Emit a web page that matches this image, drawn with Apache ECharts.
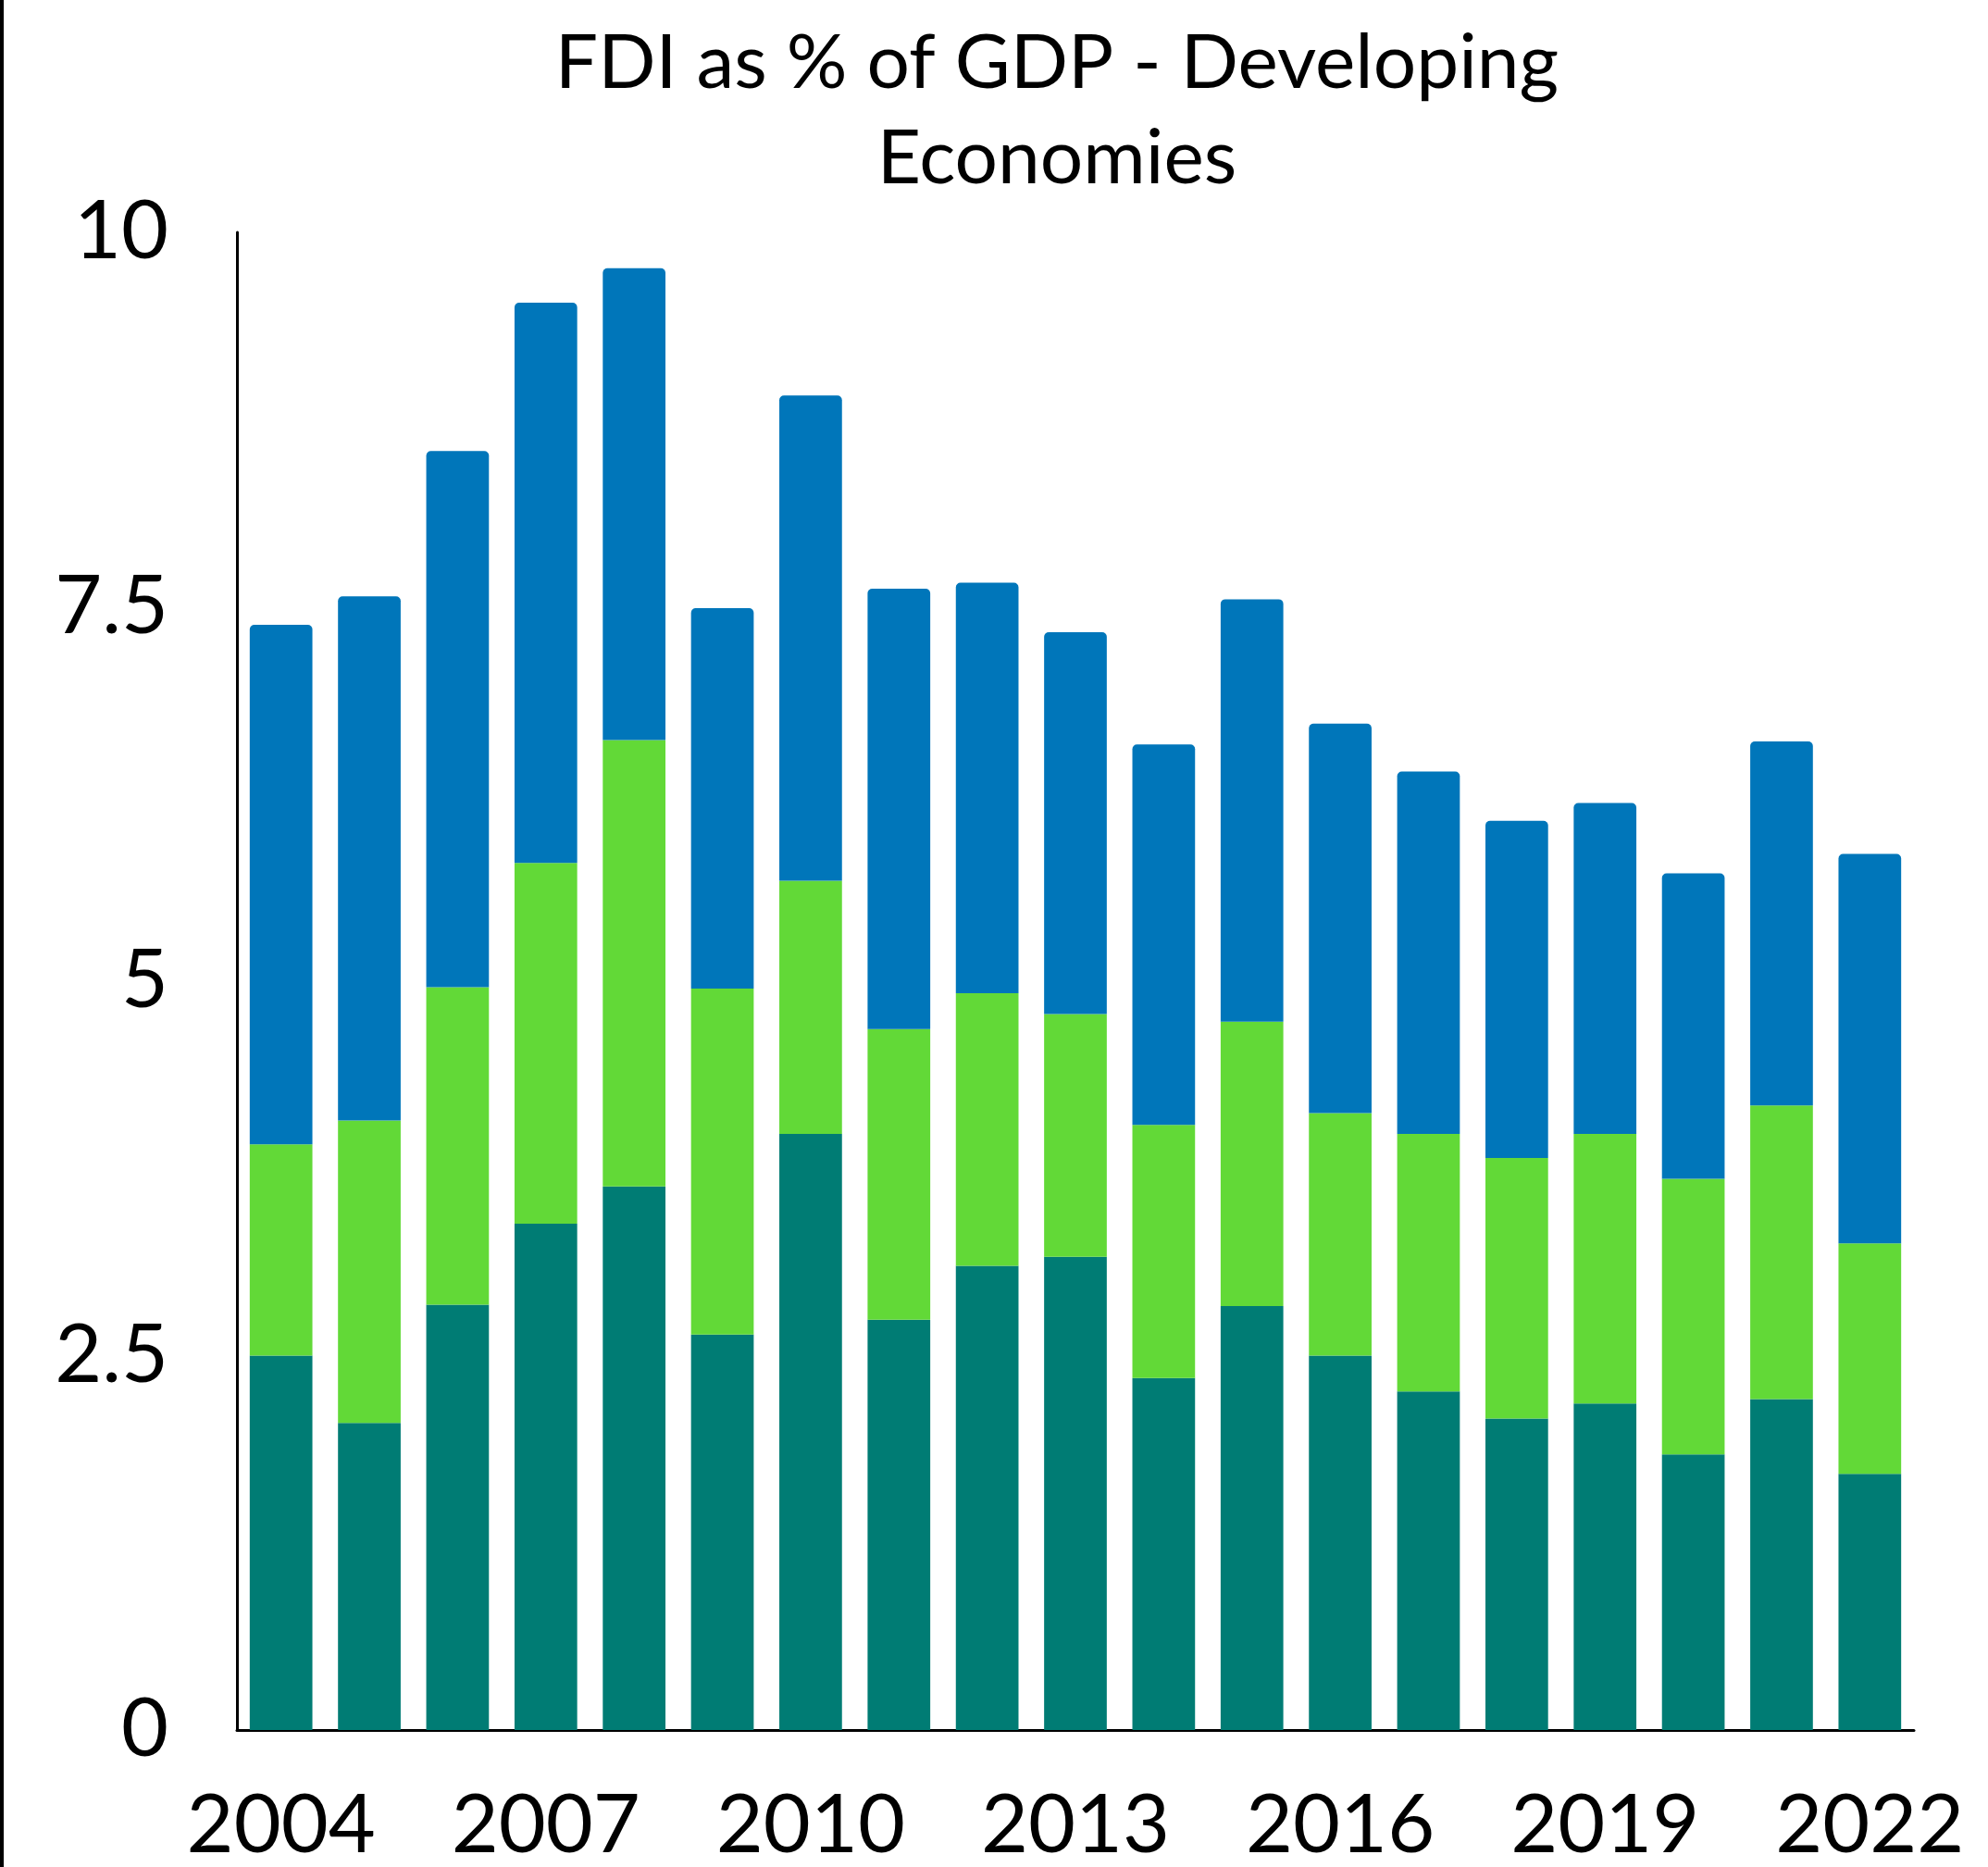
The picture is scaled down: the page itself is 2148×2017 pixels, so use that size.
<!DOCTYPE html>
<html>
<head>
<meta charset="utf-8">
<script src="https://cdn.jsdelivr.net/npm/echarts@6/dist/echarts.min.js"></script>
<style>
html, body { margin: 0; padding: 0; background: #fff; }
#main { width: 2148px; height: 2017px; }
</style>
</head>
<body>
<div id="main"></div>
<script>
var years = ['2004','2005','2006','2007','2008','2009','2010','2011','2012','2013',
             '2014','2015','2016','2017','2018','2019','2020','2021','2022'];
// bottom segment (teal)
var bottomVals = [2.50,2.05,2.84,3.38,3.63,2.64,3.98,2.74,3.10,3.16,2.35,2.83,2.50,2.26,2.08,2.18,1.84,2.21,1.71];
// middle segment (green)
var middleVals = [1.41,2.02,2.12,2.41,2.98,2.31,1.69,1.94,1.82,1.62,1.69,1.90,1.62,1.72,1.74,1.80,1.84,1.96,1.54];
// top segment (blue)
var topVals = [3.47,3.50,3.58,3.74,3.15,2.54,3.24,2.94,2.74,2.55,2.54,2.82,2.60,2.42,2.25,2.21,2.04,2.43,2.60];

var font = 'Lato';
var chart = echarts.init(document.getElementById('main'));

var option = {
    animation: false,
    backgroundColor: '#ffffff',
    title: {
        text: 'FDI as % of GDP - Developing\nEconomies',
        left: 1137,
        textAlign: 'center',
        top: 12,
        textStyle: {
            fontFamily: font,
            fontSize: 82,
            fontWeight: 'normal',
            color: '#000',
            lineHeight: 103
        }
    },
    graphic: [{
        type: 'rect',
        shape: { x: 0, y: 0, width: 4, height: 2017 },
        style: { fill: '#000' }
    }],
    grid: { left: 256, right: 80, top: 251, bottom: 146 },
    xAxis: {
        type: 'category',
        data: years,
        axisLine: { lineStyle: { color: '#000', width: 3 } },
        axisTick: { show: false },
        axisLabel: {
            interval: 2,
            fontFamily: font,
            fontSize: 88,
            color: '#000',
            margin: 60
        }
    },
    yAxis: {
        type: 'value',
        min: 0,
        max: 10,
        interval: 2.5,
        splitLine: { show: false },
        axisLine: { show: true, lineStyle: { color: '#000', width: 3 } },
        axisTick: { show: false },
        axisLabel: {
            fontFamily: font,
            fontSize: 88,
            color: '#000',
            margin: 74
        }
    },
    series: [
        {
            name: 'Bottom',
            type: 'bar',
            stack: 'fdi',
            barCategoryGap: '29%',
            data: bottomVals,
            itemStyle: { color: '#007C74' }
        },
        {
            name: 'Middle',
            type: 'bar',
            stack: 'fdi',
            data: middleVals,
            itemStyle: { color: '#62D937' }
        },
        {
            name: 'Top',
            type: 'bar',
            stack: 'fdi',
            data: topVals,
            itemStyle: { color: '#0076BA', borderRadius: [5, 5, 0, 0] }
        }
    ]
};

chart.setOption(option);
</script>
</body>
</html>
